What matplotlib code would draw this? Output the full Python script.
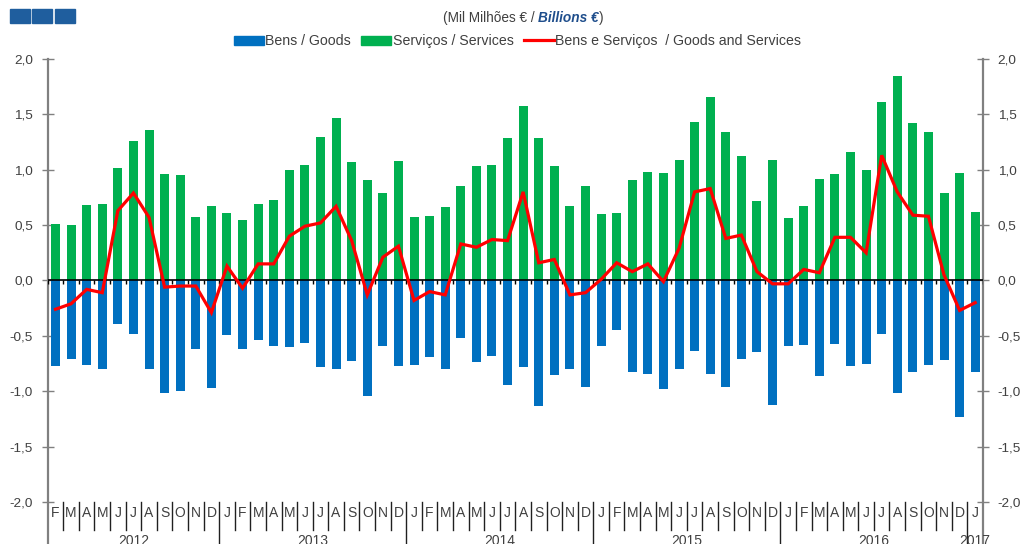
import numpy as np
import matplotlib
matplotlib.use('Agg')
import matplotlib.pyplot as plt
from matplotlib.patches import Patch, Rectangle
from matplotlib.lines import Line2D

plt.rcParams.update({
    'font.family': ['Liberation Sans', 'DejaVu Sans'],
    'font.size': 9.5,
})

# monthly data, Feb 2012 .. Jan 2017 (billions of euro)
month_labels = list('FMAMJJASOND') + list('JFMAMJJASOND') * 4 + ['J']
years = ['2012', '2013', '2014', '2015', '2016', '2017']
months_per_year = [11, 12, 12, 12, 12, 1]

goods = [-0.77, -0.71, -0.76, -0.80, -0.39, -0.48, -0.80, -1.02, -1.00, -0.62, -0.97,
         -0.49, -0.62, -0.54, -0.59, -0.60, -0.56, -0.78, -0.80, -0.73, -1.04, -0.59, -0.77,
         -0.76, -0.69, -0.80, -0.52, -0.74, -0.68, -0.94, -0.78, -1.13, -0.85, -0.80, -0.96,
         -0.59, -0.45, -0.83, -0.84, -0.98, -0.80, -0.64, -0.84, -0.96, -0.71, -0.65, -1.12,
         -0.59, -0.58, -0.86, -0.57, -0.77, -0.75, -0.48, -1.02, -0.83, -0.76, -0.72, -1.23,
         -0.83]
services = [0.51, 0.50, 0.68, 0.69, 1.02, 1.26, 1.36, 0.96, 0.95, 0.57, 0.67,
            0.61, 0.55, 0.69, 0.73, 1.00, 1.04, 1.30, 1.47, 1.07, 0.91, 0.79, 1.08,
            0.57, 0.58, 0.66, 0.85, 1.03, 1.04, 1.29, 1.58, 1.29, 1.03, 0.67, 0.85,
            0.60, 0.61, 0.91, 0.98, 0.97, 1.09, 1.43, 1.66, 1.34, 1.12, 0.72, 1.09,
            0.56, 0.67, 0.92, 0.96, 1.16, 1.00, 1.61, 1.85, 1.42, 1.34, 0.79, 0.97,
            0.62]
total = [-0.26, -0.21, -0.08, -0.11, 0.63, 0.79, 0.57, -0.06, -0.05, -0.05, -0.29,
         0.13, -0.07, 0.15, 0.15, 0.40, 0.49, 0.52, 0.67, 0.36, -0.13, 0.21, 0.31,
         -0.18, -0.10, -0.13, 0.33, 0.30, 0.37, 0.36, 0.80, 0.16, 0.19, -0.13, -0.11,
         0.01, 0.16, 0.08, 0.15, -0.01, 0.29, 0.80, 0.83, 0.38, 0.41, 0.08, -0.03,
         -0.03, 0.10, 0.07, 0.39, 0.39, 0.25, 1.13, 0.80, 0.59, 0.58, 0.05, -0.27,
         -0.20]

BLUE = '#0070C0'
GREEN = '#00B050'
RED = '#FF0000'
AXIS_GRAY = '#808080'
TEXT = '#404040'

W, H = 1021, 544
fig = plt.figure(figsize=(W / 100, H / 100), dpi=100)

# plot area in pixels: x 47.7..983, y=2.0 at 59 px, -2.0 at 502 px, runs to the bottom edge
left_px, right_px, top_px = 47.7, 983.0, 59.0
px_per_unit = (502.0 - 59.0) / 4.0
ymin = -2.0 - (H - 502.0) / px_per_unit
ax = fig.add_axes([left_px / W, 0.0, (right_px - left_px) / W, (H - top_px) / H])

n = len(goods)
x = np.arange(n)
ax.bar(x, services, width=0.58, color=GREEN, zorder=2)
ax.bar(x, goods, width=0.58, color=BLUE, zorder=2)
ax.axhline(0, color='black', lw=1.2, zorder=3)
ax.vlines(np.arange(n + 1) - 0.5, -0.03, 0, color='black', lw=1.0, zorder=3)
ax.plot(x, total, color=RED, lw=2.3, zorder=4, solid_joinstyle='miter')

ax.set_xlim(-0.5, n - 0.5)
ax.set_ylim(ymin, 2.0)

for s in ['top', 'bottom']:
    ax.spines[s].set_visible(False)
for s in ['left', 'right']:
    ax.spines[s].set_color(AXIS_GRAY)
    ax.spines[s].set_linewidth(1.6)
    ax.spines[s].set_bounds(ymin, 2.0)

yt = np.arange(-2.0, 2.01, 0.5)
ax.set_yticks(yt)
ax.set_yticklabels([f'{v:.1f}'.replace('.', ',') for v in yt])
ax.tick_params(axis='y', which='both', direction='inout', length=9, width=1.0,
               color=AXIS_GRAY, labelcolor=TEXT, labelsize=9.7, pad=6,
               left=True, right=True, labelleft=True, labelright=True)
ax.set_xticks([])

# month letters and separators below the -2,0 line
sep_bottom = -2.0 - (530.0 - 502.0) / px_per_unit
month_y = -2.0 - (513.0 - 502.0) / px_per_unit
for i, m in enumerate(month_labels):
    ax.text(i, month_y, m, ha='center', va='center', fontsize=10, color=TEXT, clip_on=False)
year_starts = np.cumsum([0] + months_per_year[:-1])
year_bounds = set(int(b) for b in year_starts[1:])
for b in range(1, n):
    bottom = ymin if b in year_bounds else sep_bottom
    ax.plot([b - 0.5, b - 0.5], [-2.0, bottom], color='#202020', lw=1.0, clip_on=False, zorder=3)

# year labels sit at the bottom edge, partly cut off as in the original
year_y = -2.0 - (534.0 - 502.0) / px_per_unit
for yr, start, cnt in zip(years, year_starts, months_per_year):
    ax.text(start - 0.5 + cnt / 2.0, year_y, yr, ha='center', va='top', fontsize=10,
            color=TEXT, clip_on=False)

# legend
handles = [Patch(color=BLUE), Patch(color=GREEN), Line2D([], [], color=RED, lw=2.3)]
labels = ['Bens / Goods', 'Serviços / Services', 'Bens e Serviços  / Goods and Services']
leg = fig.legend(handles, labels, loc='center', bbox_to_anchor=(517.5 / W, 1 - 41 / H), ncol=3,
                 frameon=False, handlelength=2.1, handleheight=0.6, handletextpad=0.1,
                 columnspacing=0.75, fontsize=10.2)
for t in leg.get_texts():
    t.set_color(TEXT)

# title in three parts
fig.canvas.draw()
r = fig.canvas.get_renderer()
ty = 1 - 18 / H
parts = [('(Mil Milhões € / ', dict(color=TEXT)),
         ('Billions €', dict(color='#1F4E8C', fontweight='bold', fontstyle='italic')),
         (')', dict(color=TEXT))]
widths = []
for s, kw in parts:
    t = fig.text(0, ty, s, fontsize=9.8, **kw)
    widths.append(t.get_window_extent(r).width)
    t.remove()
xpos = 523 - sum(widths) / 2.0
for (s, kw), w in zip(parts, widths):
    fig.text(xpos / W, ty, s, fontsize=9.8, va='center', ha='left', **kw)
    xpos += w

# three blue squares, top left
for x0 in [10, 32, 55]:
    fig.patches.append(Rectangle((x0 / W, 1 - 23 / H), 19.5 / W, 14 / H,
                                 transform=fig.transFigure, color='#1F5E9E'))

fig.savefig('out.png', dpi=100)
